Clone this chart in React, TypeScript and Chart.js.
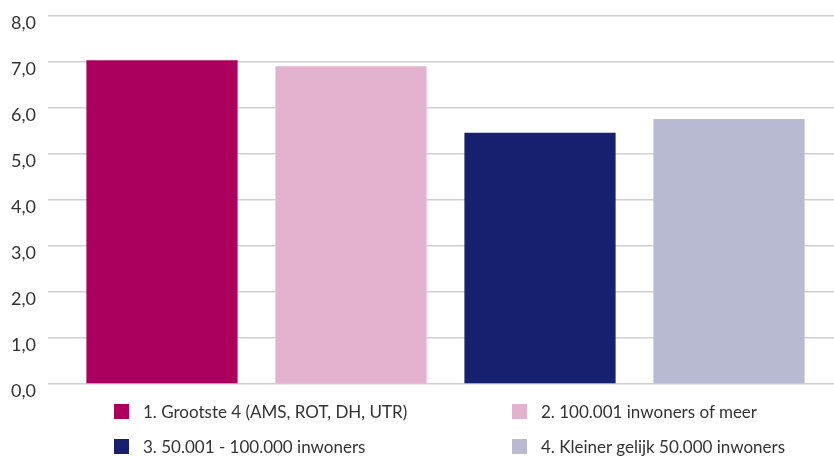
import React, { useEffect, useRef } from "react";
import { Chart, registerables } from "chart.js";

Chart.register(...registerables);

const seriesNames = [
  "1. Grootste 4 (AMS, ROT, DH, UTR)",
  "2. 100.001 inwoners of meer",
  "3. 50.001 - 100.000 inwoners",
  "4. Kleiner gelijk 50.000 inwoners",
];
const seriesValues = [7.04, 6.91, 5.46, 5.76];
const seriesColors = ["#AB005D", "#E3B2CF", "#17206E", "#B8BAD2"];
const yMin = 0;
const yMax = 8;
const yStep = 1;

const FONT = "Lato, 'Open Sans', sans-serif";

export default function App() {
  const canvasRef = useRef<HTMLCanvasElement | null>(null);

  useEffect(() => {
    if (!canvasRef.current) return;
    const chart = new Chart(canvasRef.current, {
      type: "bar",
      data: {
        labels: [""],
        datasets: seriesNames.map((name, i) => ({
          label: name,
          data: [seriesValues[i]],
          backgroundColor: seriesColors[i],
          borderWidth: 0,
          categoryPercentage: 0.973,
          barPercentage: 0.8,
        })),
      },
      options: {
        animation: false,
        responsive: false,
        maintainAspectRatio: false,
        layout: { padding: { left: 0, right: 0, top: 16, bottom: 72 } },
        plugins: {
          legend: { display: false },
          tooltip: { enabled: false },
        },
        scales: {
          x: { display: false },
          y: {
            min: yMin,
            max: yMax,
            afterFit: (scale: any) => {
              scale.width = 57;
              scale.paddingTop = 0;
              scale.paddingBottom = 0;
            },
            border: { display: false },
            grid: {
              color: "#CFCFCF",
              lineWidth: 1.5,
              tickLength: 9,
              drawTicks: true,
            },
            ticks: {
              stepSize: yStep,
              padding: 12,
              labelOffset: 7,
              color: "#333333",
              font: { family: FONT, size: 18 },
              callback: (v: any) => Number(v).toFixed(1).replace(".", ","),
            },
          },
        },
      },
    });
    return () => chart.destroy();
  }, []);

  const legendCols = [114, 512];
  const legendRows = [411.5, 446];

  return (
    <div style={{ position: "absolute", left: 0, top: 0, width: 834, height: 456, background: "#fff" }}>
      <canvas ref={canvasRef} width={834} height={456} style={{ display: "block", width: 834, height: 456 }} />
      {seriesNames.map((name, i) => (
        <div
          key={name}
          style={{
            position: "absolute",
            left: legendCols[i % 2],
            top: legendRows[Math.floor(i / 2)] - 8,
            height: 16,
            display: "flex",
            alignItems: "center",
            fontFamily: FONT,
            fontSize: 17,
            color: "#333333",
            whiteSpace: "nowrap",
          }}
        >
          <span style={{ display: "inline-block", width: 15, height: 15, background: seriesColors[i], marginRight: 14, flex: "none" }} />
          <span>{name}</span>
        </div>
      ))}
    </div>
  );
}
